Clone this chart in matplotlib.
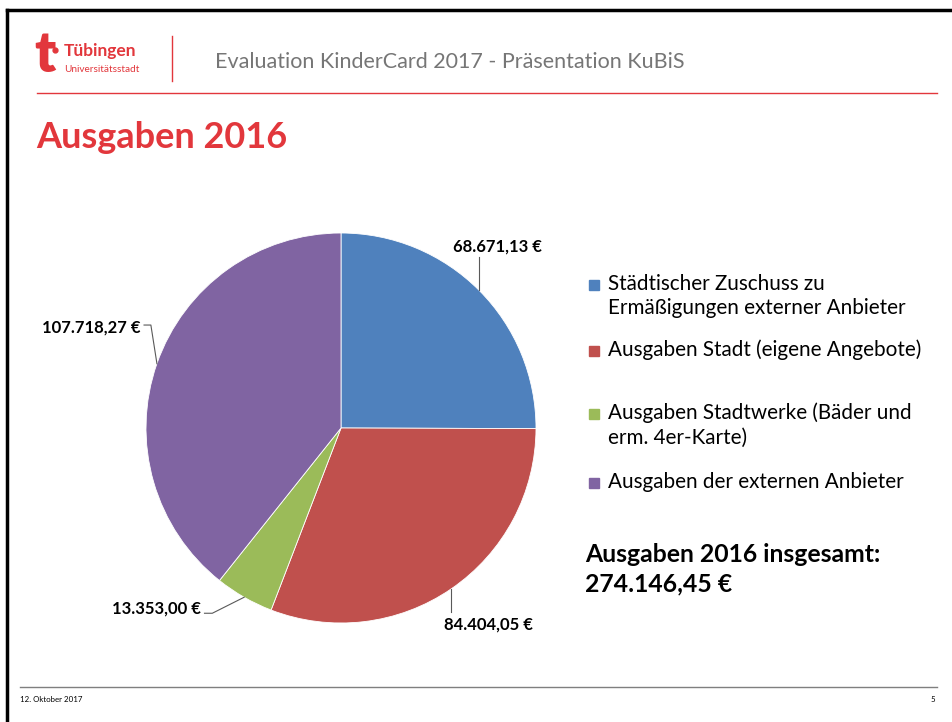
import numpy as np
import matplotlib.pyplot as plt

# data
categories = ['Städtischer Zuschuss zu\nErmäßigungen externer Anbieter',
              'Ausgaben Stadt (eigene Angebote)',
              'Ausgaben Stadtwerke (Bäder und\nerm. 4er-Karte)',
              'Ausgaben der externen Anbieter']
values = [68671.13, 84404.05, 13353.00, 107718.27]
value_labels = ['68.671,13 €', '84.404,05 €', '13.353,00 €', '107.718,27 €']
colors = ['#4F81BD', '#C0504D', '#9BBB59', '#8064A2']
total_label = 'Ausgaben 2016 insgesamt:\n274.146,45 €'

RED = '#E2373C'
FONT = 'Lato'
plt.rcParams['font.family'] = [FONT, 'DejaVu Sans']

W, H = 953, 722
fig = plt.figure(figsize=(W / 100, H / 100), dpi=100)

def fx(x):
    return x / W

def fy(y):
    return 1 - y / H

# slide frame (top + left only)
fig.add_artist(plt.Line2D([fx(7), 1], [fy(10), fy(10)], color='black', lw=2.5))
fig.add_artist(plt.Line2D([fx(7), fx(7)], [fy(10), 0], color='black', lw=2.5))

# header / logo
fig.text(fx(34), fy(55), 't', color=RED, fontsize=40, fontweight='heavy', va='center', ha='left')
fig.add_artist(plt.Line2D([fx(55)], [fy(50)], marker='o', ms=3.5, color=RED, lw=0))
fig.text(fx(64), fy(51), 'Tübingen', color=RED, fontsize=12.5, fontweight='bold', va='center')
fig.text(fx(64), fy(70), 'Universitätsstadt', color=RED, fontsize=7.2, va='center')
fig.add_artist(plt.Line2D([fx(172), fx(172)], [fy(36), fy(81)], color=RED, lw=1))
fig.text(fx(215), fy(62), 'Evaluation KinderCard 2017 - Präsentation KuBiS',
         color='#767676', fontsize=15.5, va='center')
fig.add_artist(plt.Line2D([fx(37), fx(937)], [fy(93), fy(93)], color=RED, lw=1))

fig.text(fx(36), fy(138), 'Ausgaben 2016', color=RED, fontsize=26, fontweight='bold', va='center')

# footer
fig.add_artist(plt.Line2D([fx(20), fx(937)], [fy(687), fy(687)], color='#7f7f7f', lw=1))
fig.text(fx(20), fy(700), '12. Oktober 2017', fontsize=5.7, va='center')
fig.text(fx(935), fy(700), '5', fontsize=5.7, va='center', ha='right')

# pie
cx, cy, r = 341, 428, 195
ax = fig.add_axes([fx(cx - r), fy(cy + r), 2 * r / W, 2 * r / H])
wedges, _ = ax.pie(values, colors=colors, startangle=90, counterclock=False,
                   wedgeprops=dict(linewidth=0.6, edgecolor='white'))
ax.set_xlim(-1, 1)
ax.set_ylim(-1, 1)
ax.set_aspect('equal')
ax.axis('off')

# label placement (pie units): text xy, ha, elbow point or None
label_pos = [((0.80, 0.93), 'center', None),
             ((0.755, -1.01), 'center', None),
             ((-0.72, -0.928), 'right', (-0.66, -0.95)),
             ((-1.03, 0.515), 'right', (-0.975, 0.528))]

for w, lab, (txy, ha, elbow) in zip(wedges, value_labels, label_pos):
    th = np.deg2rad((w.theta1 + w.theta2) / 2)
    ax_, ay_ = np.cos(th), np.sin(th)
    ax.text(txy[0], txy[1], lab, fontsize=12, fontweight='bold', ha=ha, va='center')
    if elbow is None:
        end_y = txy[1] - 0.055 if txy[1] > 0 else txy[1] + 0.065
        ax.plot([ax_, ax_], [ay_, end_y], color='#595959', lw=0.8, clip_on=False)
    else:
        ax.plot([ax_, elbow[0], txy[0] + 0.02], [ay_, elbow[1], elbow[1]],
                color='#595959', lw=0.8, clip_on=False)

# legend
leg_y = [[284, 308], [350], [413, 438], [482]]
for c, lab, ys in zip(colors, categories, leg_y):
    fig.patches.append(plt.Rectangle((fx(589), fy(ys[0] + 6)), 10 / W, 10 / H,
                                     transform=fig.transFigure, color=c))
    for line, y in zip(lab.split('\n'), ys):
        fig.text(fx(608), fy(y), line, fontsize=14.9, va='center')

tl = total_label.split('\n')
fig.text(fx(585), fy(555), tl[0], fontsize=17.8, fontweight='bold', va='center')
fig.text(fx(585), fy(584), tl[1], fontsize=17.8, fontweight='bold', va='center')

fig.savefig('out.png', dpi=100)
